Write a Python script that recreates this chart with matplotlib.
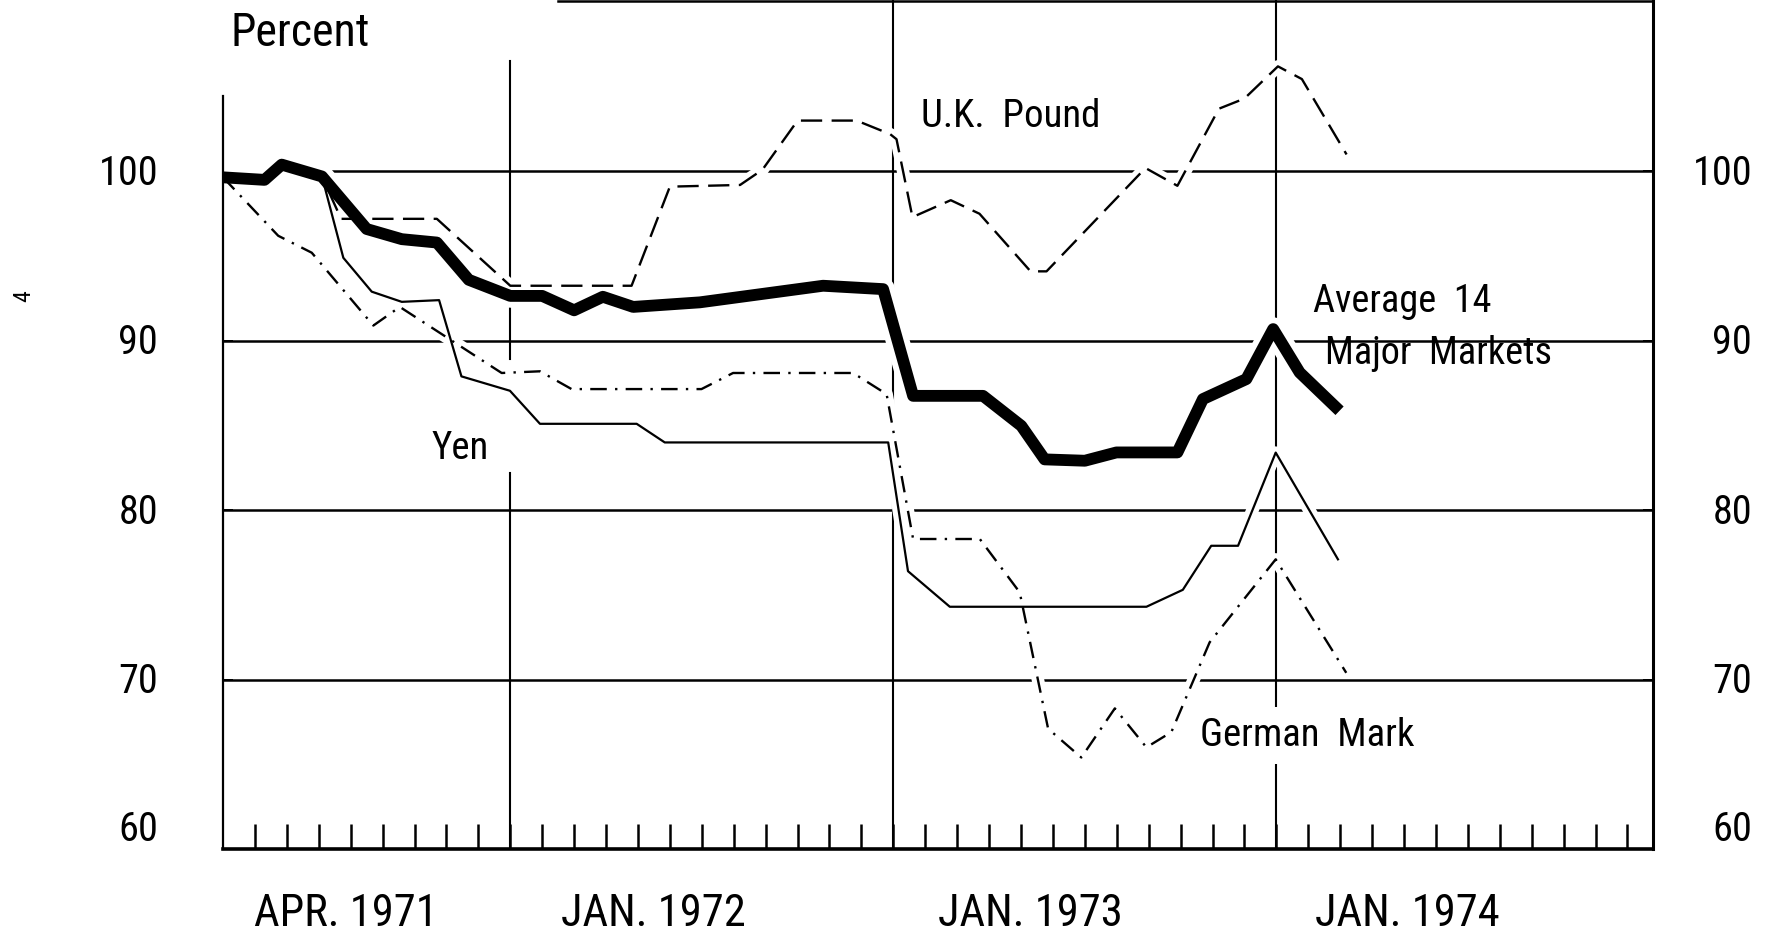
import matplotlib
matplotlib.use("Agg")
import matplotlib.pyplot as plt
import matplotlib.font_manager as fm
import matplotlib.transforms as mtransforms
from matplotlib.font_manager import FontProperties

# ---------------- data (x = months after April 1971, y = percent) ----------------
avg_months = [0, 1.3, 1.84, 3.1, 4.5, 5.6, 6.7, 7.7, 9.0, 10.0, 11.0, 11.9, 12.85, 14.94,
              18.8, 20.68, 21.62, 23.81, 25.01, 25.74, 27.0, 27.99, 29.9, 30.7, 32.06,
              32.9, 33.73, 34.98]
avg_values = [99.65, 99.5, 100.4, 99.7, 96.6, 96.0, 95.8, 93.6, 92.65, 92.65, 91.8, 92.6,
              92.0, 92.27, 93.25, 93.05, 86.75, 86.75, 84.98, 83.0, 82.92, 83.41, 83.41,
              86.56, 87.74, 90.69, 88.13, 85.87]

uk_months = [0, 1.3, 1.84, 3.1, 3.7, 6.7, 9.0, 12.8, 14.0, 16.2, 16.9, 18.0, 19.85, 20.9,
             21.1, 21.6, 22.8, 23.7, 25.3, 25.8, 28.9, 29.9, 31.2, 32.0, 33.05, 33.8, 35.2]
uk_values = [99.65, 99.5, 100.4, 99.7, 97.2, 97.2, 93.25, 93.25, 99.1, 99.2, 100.1, 103.0,
             103.0, 102.2, 101.9, 97.3, 98.3, 97.5, 94.1, 94.1, 100.2, 99.15, 103.7, 104.3,
             106.2, 105.45, 101.0]

yen_months = [0, 1.3, 1.84, 3.1, 3.77, 4.66, 5.6, 6.77, 7.47, 8.99, 9.93, 12.96, 13.84,
              20.84, 21.46, 22.77, 28.93, 30.07, 30.96, 31.8, 32.98, 34.93]
yen_values = [99.65, 99.5, 100.4, 99.7, 94.9, 92.9, 92.3, 92.4, 87.9, 87.05, 85.1, 85.1,
              84.0, 84.0, 76.4, 74.3, 74.3, 75.3, 77.9, 77.9, 83.4, 77.1]

mark_months = [0, 1.73, 2.78, 4.71, 5.54, 8.73, 9.93, 10.92, 14.99, 15.98, 19.74, 20.79,
               21.62, 23.71, 24.96, 25.85, 26.89, 27.94, 28.93, 29.71, 30.91, 32.98, 35.19]
mark_values = [99.65, 96.2, 95.2, 90.9, 92.0, 88.1, 88.2, 87.15, 87.15, 88.1, 88.1, 86.85,
               78.3, 78.3, 75.15, 67.1, 65.4, 68.3, 66.0, 66.9, 72.2, 77.1, 70.4]

y_ticks = [100, 90, 80, 70, 60]
year_lines = [9, 21, 33]                       # Jan 1972, Jan 1973, Jan 1974
x_labels = ["APR. 1971", "JAN. 1972", "JAN. 1973", "JAN. 1974"]
x_label_pos = [3.85, 13.47, 25.3, 37.1]


# ---------------- font ----------------
def pick_font():
    ents = fm.fontManager.ttflist
    names = {e.name for e in ents}
    for n in ["Liberation Sans Narrow", "Arial Narrow", "Roboto Condensed",
              "Open Sans Condensed", "Noto Sans Condensed", "DejaVu Sans Condensed"]:
        if n in names:
            return n, "normal"
    for e in ents:
        w = e.weight if isinstance(e.weight, int) else 400
        if e.stretch in ("condensed", "semi-condensed") and e.style == "normal" and w <= 500:
            return e.name, e.stretch
    return "Liberation Sans", "normal"


FAM, STR = pick_font()


def fp(size):
    return FontProperties(family=FAM, stretch=STR, size=size)


# ---------------- figure ----------------
W, H = 1775, 934
fig = plt.figure(figsize=(W / 100, H / 100), dpi=100)
ax_l, ax_r, ax_b, ax_t = 223, 1653, 849, 0
ax = fig.add_axes([ax_l / W, (H - ax_b) / H, (ax_r - ax_l) / W, (ax_b - ax_t) / H])
ymin = 60
px_per_unit = 16.94
ymax = ymin + (ax_b - ax_t) / px_per_unit
ax.set_xlim(0, 44.8)
ax.set_ylim(ymin, ymax)

# grid lines
for v in y_ticks[:-1]:
    ax.plot([0, 44.8], [v, v], color="black", lw=1.8, zorder=1, solid_capstyle="butt")
ax.plot([year_lines[0]] * 2, [60, 82.2], color="black", lw=1.5, zorder=1)
ax.plot([year_lines[0]] * 2, [88.9, 106.5], color="black", lw=1.5, zorder=1)
for m in year_lines[1:]:
    ax.plot([m, m], [60, ymax], color="black", lw=1.5, zorder=1)
# partial top border
ax.plot([10.5, 44.8], [ymax - 0.07, ymax - 0.07], color="black", lw=1.8, zorder=1)

# white halos that break the grid where curves cross
halo = dict(color="white", zorder=2, solid_capstyle="butt", solid_joinstyle="round")
ax.plot(avg_months, avg_values, lw=17, **halo)
for xs, ys in [(uk_months, uk_values), (yen_months, yen_values), (mark_months, mark_values)]:
    ax.plot(xs, ys, lw=9, **halo)

# data lines
ax.plot(uk_months, uk_values, color="black", lw=1.7, linestyle=(0, (9, 4)), zorder=3)
ax.plot(yen_months, yen_values, color="black", lw=1.6, zorder=3)
ax.plot(mark_months, mark_values, color="black", lw=1.7,
        linestyle=(0, (7, 3.5, 1, 3.5)), zorder=3)
ax.plot(avg_months, avg_values, color="black", lw=8.5, zorder=3.5,
        solid_joinstyle="round", solid_capstyle="butt")

# spines
ax.spines["top"].set_visible(False)
ax.spines["left"].set_bounds(60, 104.45)
ax.spines["left"].set_linewidth(1.6)
ax.spines["right"].set_linewidth(2.2)
ax.spines["bottom"].set_linewidth(2.6)
for s in ax.spines.values():
    s.set_zorder(4)

# ticks
ax.set_xticks(range(1, 45))
ax.tick_params(axis="x", direction="in", length=18, width=1.8, labelbottom=False,
               bottom=True, top=False)
ax.set_yticks(y_ticks[:-1])
ax.tick_params(axis="y", direction="in", length=7, width=1.4, left=True, right=True,
               labelleft=False, labelright=False)

# y tick labels (both sides)
label_y = {100: 99.2, 90: 89.25, 80: 79.2, 70: 69.2, 60: 60.5}
ytr = mtransforms.blended_transform_factory(fig.transFigure, ax.transData)
for v in y_ticks:
    ax.text(158 / W, label_y[v], str(v), transform=ytr, ha="right", va="baseline",
            fontproperties=fp(29))
    ax.text(1752 / W, label_y[v], str(v), transform=ytr, ha="right", va="baseline",
            fontproperties=fp(29))

# x labels
xtr = mtransforms.blended_transform_factory(ax.transData, fig.transFigure)
for lab, pos in zip(x_labels, x_label_pos):
    ax.text(pos, (H - 926) / H, lab, transform=xtr, ha="center", va="baseline",
            fontproperties=fp(32))

# annotations
ax.text(0.25, 107.4, "Percent", ha="left", va="baseline", fontproperties=fp(33), zorder=5)
ax.text(21.86, 102.6, "U.K.  Pound", ha="left", va="baseline", fontproperties=fp(28), zorder=5)
ax.text(34.14, 91.69, "Average  14", ha="left", va="baseline", fontproperties=fp(27.5), zorder=5)
ax.text(34.51, 88.62, "Major  Markets", ha="left", va="baseline", fontproperties=fp(27.5), zorder=5)
ax.text(6.54, 83.0, "Yen", ha="left", va="baseline", fontproperties=fp(28), zorder=5)
ax.text(30.6, 66.09, "German  Mark", ha="left", va="baseline", fontproperties=fp(28), zorder=5,
        bbox=dict(facecolor="white", edgecolor="none", pad=7))

# small page mark at the left margin
fig.text(24 / W, (H - 296) / H, "4", rotation=90, ha="center", va="center",
         fontproperties=fp(17))

fig.savefig("out.png", dpi=100)
